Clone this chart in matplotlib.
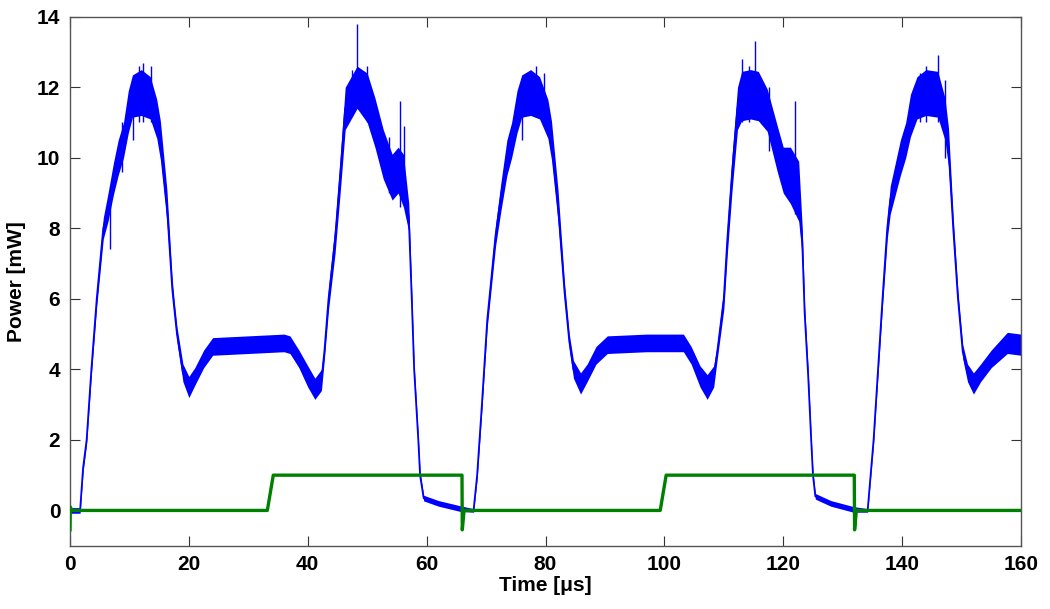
"""Optical power trace with drive gate signal (MATLAB-style figure)."""

import matplotlib
matplotlib.use("Agg")
import matplotlib.pyplot as plt
import numpy as np

# Blue power trace: knot times [us], centre of noisy band [mW], half-width of band [mW]
power_t = [
    0.0, 1.7, 2.2, 2.8, 3.6, 4.5, 5.6, 6.4, 7.3, 8.1, 9.0, 9.8, 10.5, 12.0,
    13.5, 14.6, 15.2, 16.3, 17.2, 17.5, 18.0, 19.0, 20.0, 21.0, 22.5, 24.0,
    30.0, 36.0, 37.0, 38.5, 40.0, 41.2, 42.3, 42.8, 43.5, 44.6, 45.5, 46.3,
    48.3, 50.0, 51.3, 52.7, 54.2, 55.2, 56.1, 57.0, 57.5, 57.9, 58.6, 58.9,
    59.5, 62.0, 65.7, 67.9, 68.5, 69.3, 70.2, 71.6, 72.5, 73.5, 74.3, 75.2,
    76.0, 77.5, 79.0, 80.4, 81.0, 82.1, 83.2, 84.0, 84.7, 85.9, 87.0, 88.5,
    90.4, 97.0, 103.2, 104.5, 106.0, 107.2, 108.3, 108.9, 110.0, 110.6, 111.4,
    112.3, 113.0, 114.5, 115.8, 117.3, 119.0, 120.0, 121.2, 122.6, 123.2,
    123.6, 124.2, 124.7, 125.0, 125.4, 128.0, 131.8, 134.2, 135.2, 136.7,
    137.5, 138.0, 139.7, 140.6, 141.4, 142.5, 144.0, 146.0, 147.2, 147.8,
    148.6, 149.4, 150.2, 151.0, 152.0, 153.2, 155.0, 157.7, 160.0,
]
power_mid = [
    0.0, 0.0, 1.2, 2.0, 4.0, 6.0, 8.0, 8.6, 9.4, 10.0, 10.5, 11.3, 11.75, 11.85,
    11.7, 11.1, 10.5, 8.65, 6.3, 5.8, 5.0, 3.9, 3.5, 3.8, 4.3, 4.65,
    4.7, 4.75, 4.7, 4.3, 3.8, 3.45, 3.7, 4.5, 6.0, 7.7, 9.6, 11.4,
    12.0, 11.7, 11.0, 10.1, 9.45, 9.65, 9.35, 8.3, 6.0, 4.0, 2.0, 1.0,
    0.35, 0.2, 0.05, 0.0, 1.0, 3.0, 5.4, 7.8, 8.9, 10.0, 10.5, 11.3,
    11.75, 11.85, 11.7, 11.1, 10.5, 8.65, 6.2, 4.8, 4.0, 3.6, 3.9, 4.4,
    4.7, 4.75, 4.75, 4.4, 3.8, 3.5, 3.8, 4.5, 6.0, 7.7, 9.6,
    11.4, 11.75, 11.8, 11.75, 11.35, 10.25, 9.65, 9.5, 9.05, 7.6,
    5.6, 3.8, 2.0, 1.0, 0.4, 0.2, 0.03, 0.0, 2.0, 6.0,
    8.0, 8.8, 10.0, 10.5, 11.2, 11.7, 11.85, 11.8, 11.1, 10.3,
    8.0, 6.0, 4.5, 3.9, 3.6, 3.9, 4.3, 4.75, 4.7,
]
power_hw = [
    0.08, 0.08, 0.1, 0.1, 0.15, 0.2, 0.3, 0.4, 0.45, 0.5, 0.5, 0.6, 0.6, 0.65,
    0.6, 0.55, 0.55, 0.45, 0.25, 0.2, 0.2, 0.25, 0.3, 0.25, 0.25, 0.25,
    0.25, 0.25, 0.25, 0.25, 0.3, 0.3, 0.3, 0.2, 0.3, 0.4, 0.5, 0.6,
    0.6, 0.7, 0.7, 0.7, 0.65, 0.65, 0.75, 0.4, 0.2, 0.15, 0.1, 0.1,
    0.08, 0.08, 0.08, 0.05, 0.1, 0.15, 0.2, 0.3, 0.4, 0.5, 0.5, 0.6,
    0.6, 0.65, 0.6, 0.55, 0.55, 0.45, 0.25, 0.2, 0.25, 0.3, 0.25, 0.25,
    0.25, 0.25, 0.25, 0.25, 0.3, 0.35, 0.3, 0.2, 0.3, 0.4, 0.5,
    0.6, 0.7, 0.7, 0.7, 0.6, 0.65, 0.65, 0.8, 0.85, 0.4,
    0.2, 0.15, 0.1, 0.1, 0.08, 0.08, 0.08, 0.05, 0.1, 0.2,
    0.3, 0.4, 0.5, 0.5, 0.6, 0.6, 0.65, 0.65, 0.6, 0.55,
    0.3, 0.2, 0.2, 0.25, 0.3, 0.25, 0.25, 0.3, 0.3,
]

# Isolated noise spikes: time [us], low end, high end [mW]
spike_t = [6.7, 8.8, 10.6, 11.6, 12.3, 13.7, 47.4, 48.3, 50.0, 53.6, 55.5, 56.2,
           76.0, 78.4, 79.8, 113.0, 114.2, 115.3, 117.6, 122.0, 143.0, 144.0, 146.0, 147.2]
spike_lo = [7.4, 9.6, 10.5, 11.0, 11.0, 11.0, 11.2, 11.4, 11.0, 9.0, 8.6, 8.8,
            10.5, 11.2, 10.9, 11.0, 11.0, 11.2, 10.2, 8.4, 11.0, 11.0, 11.0, 10.0]
spike_hi = [8.8, 11.0, 11.3, 12.6, 12.7, 12.6, 12.5, 13.8, 12.6, 10.6, 11.6, 10.9,
            12.0, 12.6, 12.4, 12.8, 12.6, 13.3, 12.0, 11.6, 12.4, 12.6, 12.9, 12.2]

# Green gate signal
gate_t = [0.0, 0.05, 0.3, 33.2, 34.2, 65.95, 66.0, 66.3, 99.3, 100.3, 131.95, 132.0, 132.3, 160.0]
gate_v = [-0.55, 0.1, 0.0, 0.0, 1.0, 1.0, -0.55, 0.0, 0.0, 1.0, 1.0, -0.55, 0.0, 0.0]

x_ticks = [0, 20, 40, 60, 80, 100, 120, 140, 160]
y_ticks = [0, 2, 4, 6, 8, 10, 12, 14]

plt.rcParams["font.family"] = ["Liberation Sans", "DejaVu Sans"]
plt.rcParams["font.weight"] = "bold"

fig = plt.figure(figsize=(10.5, 6.09), dpi=100)
ax = fig.add_axes([70 / 1050, 63.3 / 609, 951 / 1050, 529 / 609])

t = np.asarray(power_t)
mid = np.asarray(power_mid)
hw = np.asarray(power_hw)

ax.fill_between(t, mid - hw, mid + hw, color="#0000ff", linewidth=0, zorder=2)
ax.plot(t, mid, color="#0000ff", linewidth=1.3, zorder=2)
ax.vlines(spike_t, spike_lo, spike_hi, color="#0000ff", linewidth=1.0, zorder=2)
ax.plot(gate_t, gate_v, color="#008000", linewidth=2.4, zorder=3)

ax.set_xlim(0, 160)
ax.set_ylim(-1, 14)
ax.set_xticks(x_ticks)
ax.set_yticks(y_ticks)
ax.tick_params(direction="in", length=7, width=0.8, labelsize=15, pad=7,
               top=True, right=True, colors="#333333", labelcolor="black")
for side in ax.spines.values():
    side.set_color("#555555")
    side.set_linewidth(1.0)

ax.set_xlabel("Time [μs]", fontsize=15, fontweight="bold", labelpad=1)
ax.set_ylabel("Power [mW]", fontsize=15, fontweight="bold", labelpad=8)

fig.savefig("out.png", dpi=100, facecolor="white")
plt.close(fig)
